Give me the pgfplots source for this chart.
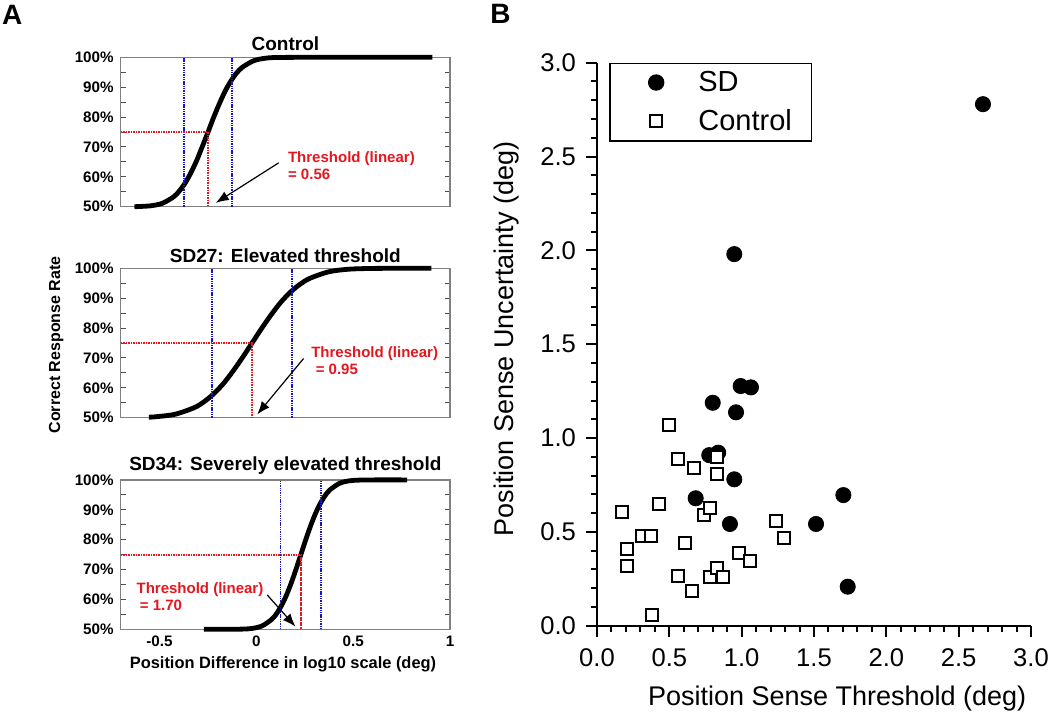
\documentclass[border=0pt]{standalone}
\usepackage{pgfplots}
\pgfplotsset{compat=1.18}
\usepackage{fontspec}
\setmainfont{Liberation Sans}
\usetikzlibrary{arrows.meta}
\definecolor{thred}{RGB}{228,22,30}
\definecolor{thblue}{RGB}{20,20,210}
\newcommand{\fs}[1]{\fontsize{#1}{#1}\selectfont}

\pgfplotsset{
 panelA/.style={
  scale only axis, width=164.65pt, height=74.7pt,
  xmin=-0.7, xmax=1, ymin=50, ymax=100,
  ytick={50,60,70,80,90,100},
  yticklabels={50\%,60\%,70\%,80\%,90\%,100\%},
  minor ytick={55,65,75,85,95},
  xtick={-0.5,0,0.5,1},
  xticklabels={-0.5,0,0.5,1},
  xtick style={draw=none},
  tick align=inside,
  major tick length=2.5pt, minor tick length=2.5pt,
  axis line style={gray, line width=0.6pt},
  ytick style={gray!60!black, line width=0.5pt},
  tick label style={font=\bfseries\fs{7.6}},
  /pgf/number format/assume math mode=true,
  clip=false,
 },
 curve/.style={black, line width=2.4pt, smooth},
 blueline/.style={thblue, dash pattern=on 0.7pt off 0.45pt, line width=0.85pt},
 redline/.style={thred, dash pattern=on 0.8pt off 0.45pt, line width=1.1pt},
}

\begin{document}
\begin{tikzpicture}
\useasboundingbox (0,0) rectangle (525pt,357pt);
\node[anchor=base west, inner sep=0, font=\bfseries\fs{14}] at (0.85pt,344.5pt) {A};
\node[anchor=base west, inner sep=0, font=\bfseries\fs{14}] at (245pt,345pt) {B};

% ---------- Control ----------
\begin{axis}[panelA, at={(60.35pt,253.65pt)}, anchor=south west, xticklabels={}]
\addplot[curve] coordinates {(-0.629,50.00) (-0.603,50.07) (-0.544,50.31) (-0.485,51.14) (-0.426,53.34) (-0.397,55.28) (-0.367,57.93) (-0.338,61.33) (-0.308,65.43) (-0.279,70.07) (-0.249,75.00) (-0.220,79.93) (-0.190,84.57) (-0.161,88.67) (-0.131,92.07) (-0.102,94.72) (-0.072,96.66) (-0.013,98.86) (0.046,99.69) (0.105,99.93) (0.300,100) (0.909,100)};
\addplot[blueline] coordinates {(-0.372,50) (-0.372,100)};
\addplot[blueline] coordinates {(-0.127,50) (-0.127,100)};
\addplot[redline] coordinates {(-0.7,75) (-0.249,75) (-0.249,50)};
\draw[-{Latex[length=6.5pt,width=5pt]}, line width=0.6pt] (axis cs:0.116,64.7) -- (axis cs:-0.209,51.3);
\node[anchor=base west, inner sep=0, thred, font=\bfseries\fs{7.5}] at (axis cs:0.162,64.7) {Threshold (linear)};
\node[anchor=base west, inner sep=0, thred, font=\bfseries\fs{7.5}] at (axis cs:0.162,59.2) {= 0.56};
\end{axis}

% ---------- SD27 ----------
\begin{axis}[panelA, at={(60.35pt,148.15pt)}, anchor=south west, xticklabels={}]
\addplot[curve] coordinates {(-0.555,50.18) (-0.520,50.31) (-0.420,51.14) (-0.321,53.34) (-0.271,55.28) (-0.221,57.93) (-0.171,61.33) (-0.122,65.43) (-0.072,70.07) (-0.022,75.00) (0.028,79.93) (0.078,84.57) (0.127,88.67) (0.177,92.07) (0.227,94.72) (0.277,96.66) (0.376,98.86) (0.476,99.69) (0.575,99.93) (0.674,99.99) (0.904,100)};
\addplot[blueline] coordinates {(-0.230,50) (-0.230,100)};
\addplot[blueline] coordinates {(0.185,50) (0.185,100)};
\addplot[redline] coordinates {(-0.7,75) (-0.022,75) (-0.022,50)};
\draw[-{Latex[length=6.5pt,width=5pt]}, line width=0.6pt] (axis cs:0.244,69.8) -- (axis cs:0.005,51.1);
\node[anchor=base west, inner sep=0, thred, font=\bfseries\fs{7.5}] at (axis cs:0.282,70.0) {Threshold (linear)};
\node[anchor=base west, inner sep=0, thred, font=\bfseries\fs{7.5}] at (axis cs:0.305,64.6) {= 0.95};
\end{axis}

% ---------- SD34 ----------
\begin{axis}[panelA, at={(60.35pt,42.35pt)}, anchor=south west]
\addplot[curve] coordinates {(-0.270,50.00) (-0.170,50.01) (-0.070,50.07) (-0.020,50.31) (0.030,51.14) (0.080,53.34) (0.105,55.28) (0.130,57.93) (0.155,61.33) (0.180,65.43) (0.205,70.07) (0.230,75.00) (0.255,79.93) (0.280,84.57) (0.305,88.67) (0.330,92.07) (0.355,94.72) (0.380,96.66) (0.430,98.86) (0.480,99.69) (0.530,99.93) (0.600,100) (0.779,100)};
\addplot[blueline] coordinates {(0.125,50) (0.125,100)};
\addplot[blueline] coordinates {(0.334,50) (0.334,100)};
\addplot[redline] coordinates {(-0.7,75) (0.230,75) (0.230,50)};
\draw[-{Latex[length=6.5pt,width=5pt]}, line width=0.6pt] (axis cs:0.0565,61.5) -- (axis cs:0.202,50.9);
\node[anchor=base west, inner sep=0, thred, font=\bfseries\fs{7.5}] at (axis cs:-0.62,62.06) {Threshold (linear)};
\node[anchor=base west, inner sep=0, thred, font=\bfseries\fs{7.5}] at (axis cs:-0.603,56.2) {= 1.70};
\end{axis}

% panel A titles and labels
\node[anchor=base, font=\bfseries\fs{9.5}] at (142.7pt,331.65pt) {Control};
\node[anchor=base, font=\bfseries\fs{9.5}] at (142.7pt,226pt) {SD27: Elevated threshold};
\node[anchor=base, font=\bfseries\fs{9.5}] at (142.7pt,121.65pt) {SD34: Severely elevated threshold};
\node[anchor=base, font=\bfseries\fs{8.2}] at (141.5pt,23pt) {Position Difference in log10 scale (deg)};
\node[anchor=base, rotate=90, font=\bfseries\fs{8}] at (30pt,184.55pt) {Correct Response Rate};

% ---------- Panel B ----------
\begin{axis}[at={(298.5pt,44.15pt)}, anchor=south west, scale only axis,
  width=217pt, height=281.5pt,
  xmin=0, xmax=3, ymin=0, ymax=3,
  axis lines*=left,
  axis line style={line width=1pt},
  tick style={line width=1pt, black},
  tick align=outside,
  xtick={0,0.5,1,1.5,2,2.5,3}, ytick={0,0.5,1,1.5,2,2.5,3},
  minor tick num=4,
  major tick length=5.5pt, minor tick length=3pt,
  tick label style={font=\fs{12.8}},
  xticklabel style={yshift=-2.5pt},
  yticklabel style={xshift=-1.5pt},
  /pgf/number format/fixed, /pgf/number format/fixed zerofill,
  /pgf/number format/precision=1,
  /pgf/number format/assume math mode=true,
  clip=false,
  legend style={at={(axis cs:0.085,3)}, anchor=north west, draw=black,
    line width=0.6pt, font=\fs{14.5}, inner xsep=4.85pt, inner ysep=0pt,
    nodes={inner xsep=4.8pt, inner ysep=3.8pt}, cells={anchor=west}},
  legend image code/.code={\path (0pt,0pt) (34pt,0pt); \draw[#1] plot coordinates {(18pt,0pt)};},
]
\addplot[only marks, mark=*, mark size=3.8pt, black] table {
x y
2.668 2.779
0.949 1.980
0.993 1.277
1.064 1.270
0.800 1.188
0.961 1.137
0.776 0.909
0.838 0.922
0.949 0.780
0.682 0.679
0.919 0.542
1.514 0.542
1.703 0.696
1.733 0.208
};
\addlegendentry{SD}
\addplot[only marks, mark=square*, mark size=3pt, mark options={line width=1pt, draw=black, fill=white}] table {
x y
0.171 0.607
0.210 0.407
0.210 0.318
0.309 0.478
0.373 0.478
0.378 0.057
0.431 0.648
0.500 1.069
0.558 0.886
0.558 0.265
0.608 0.439
0.655 0.186
0.671 0.838
0.740 0.590
0.781 0.629
0.781 0.258
0.832 0.897
0.832 0.808
0.832 0.309
0.873 0.258
0.984 0.389
1.058 0.346
1.237 0.559
1.293 0.469
};
\addlegendentry{Control}
\end{axis}
\node[anchor=base, font=\fs{13.5}] at (418.6pt,4.5pt) {Position Sense Threshold (deg)};
\node[anchor=base, rotate=90, font=\fs{13.5}] at (256.5pt,187.5pt) {Position Sense Uncertainty (deg)};
\end{tikzpicture}
\end{document}
